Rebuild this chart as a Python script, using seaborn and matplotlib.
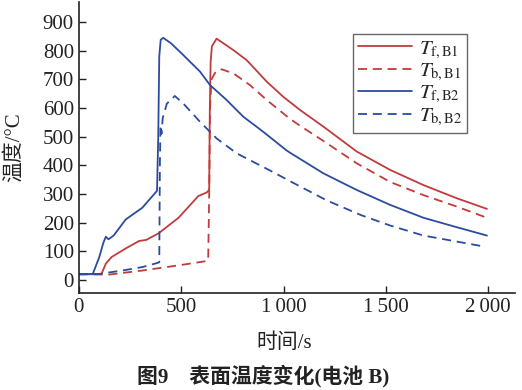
import matplotlib
matplotlib.use("Agg")
import matplotlib.pyplot as plt
from matplotlib.ticker import FuncFormatter
import seaborn as sns
import pandas as pd

# Tf,B2 (front surface, battery B2)
t_f_b2 = [0, 68, 100, 120, 132, 145, 170, 229, 310, 382, 388, 393, 400, 412, 450,
          510, 592, 641, 722, 803, 901, 1015, 1032, 1195, 1358, 1521, 1684,
          1847, 1994]
T_f_b2 = [20, 21, 80, 130, 151, 142, 155, 211, 252, 311, 500, 780, 838, 845, 826,
          785, 727, 680, 628, 570, 517, 452, 444, 372, 314, 262, 217,
          184, 155]

# Tb,B2 (back surface, battery B2)
t_b_b2 = [0, 100, 229, 310, 382, 393, 396, 399, 404, 410, 430, 469, 510, 592, 673,
          771, 918, 1050, 1210, 1380, 1521, 1684, 1847, 1985]
T_b_b2 = [20, 21, 35, 45, 59, 62, 400, 540, 510, 565, 615, 642, 616, 552, 494,
          442, 388, 338, 278, 226, 190, 155, 134, 116]

# Tf,B1
t_f_b1 = [0, 110, 132, 160, 229, 294, 330, 390, 487, 584, 624, 632, 637, 640, 644,
          650, 673, 755, 820, 918, 999, 1081, 1195, 1358, 1521, 1684, 1847, 1994]
T_f_b1 = [20, 20, 57, 80, 110, 136, 140, 163, 217, 293, 305, 310, 320, 600, 760,
          815, 842, 802, 767, 692, 639, 593, 535, 448, 384, 331, 285, 248]

# Tb,B1
t_b_b1 = [0, 150, 310, 487, 624, 632, 637, 641, 648, 670, 698, 755, 836, 918, 999,
          1032, 1081, 1195, 1358, 1521, 1684, 1847, 1994]
T_b_b1 = [20, 19, 33, 51, 66, 68, 300, 600, 700, 728, 735, 721, 680, 628, 581,
          562, 538, 485, 407, 342, 296, 256, 217]

x_ticks = [0, 500, 1000, 1500, 2000]
y_ticks = [0, 100, 200, 300, 400, 500, 600, 700, 800, 900]

red = "#c23b3b"
blue = "#2b4c9e"

sns.set_theme(style="ticks")
plt.rcParams['font.family'] = ['Liberation Serif', 'Noto Sans CJK SC']
plt.rcParams['mathtext.fontset'] = 'stix'
plt.rcParams['axes.unicode_minus'] = False

fig = plt.figure(figsize=(5.22, 3.9), dpi=100)
ax = fig.add_axes([0.151, 0.249, 0.836, 0.746])

series = [
    (t_f_b1, T_f_b1, red, '-', r'$T_{\mathrm{f,B1}}$'),
    (t_b_b1, T_b_b1, red, '--', r'$T_{\mathrm{b,B1}}$'),
    (t_f_b2, T_f_b2, blue, '-', r'$T_{\mathrm{f,B2}}$'),
    (t_b_b2, T_b_b2, blue, '--', r'$T_{\mathrm{b,B2}}$'),
]
for t, T, c, ls, lab in series:
    df = pd.DataFrame({'t': t, 'T': T})
    sns.lineplot(data=df, x='t', y='T', ax=ax, color=c, lw=1.3,
                 sort=False, estimator=None, label=lab)
    ln = ax.lines[-1]
    if ls == '--':
        ln.set_dashes((5, 3.2))

ax.set_xlim(0, 2132)
ax.set_ylim(-45, 970)
ax.set_xticks(x_ticks)
ax.set_yticks(y_ticks)
ax.xaxis.set_major_formatter(FuncFormatter(
    lambda v, p: f"{int(v):,}".replace(",", "\u2009")))
ax.tick_params(direction='in', length=5, width=1, labelsize=15, colors='#222222')
for s in ['top', 'right']:
    ax.spines[s].set_visible(False)
for s in ['left', 'bottom']:
    ax.spines[s].set_linewidth(1.2)
    ax.spines[s].set_color('#222222')

ax.set_xlabel('时间/s', fontsize=15, color='#222222')
ax.set_ylabel('温度/°C', fontsize=15, color='#222222')
ax.xaxis.set_label_coords(0.47, -0.14)
ax.yaxis.set_label_coords(-0.125, 0.5)

leg = ax.legend(loc='upper left', bbox_to_anchor=(0.628, 0.89), fontsize=15,
                frameon=True, fancybox=False, edgecolor='#444444',
                handlelength=2.6, handletextpad=0.3, labelspacing=0.05,
                borderpad=0.25, borderaxespad=0)
leg.get_frame().set_linewidth(1.0)

fig.text(0.505, 0.036, '图9\u3000表面温度变化(电池 B)', ha='center', va='center',
         fontsize=15, fontweight='bold', color='#222222')

fig.savefig('out.png', dpi=100)
